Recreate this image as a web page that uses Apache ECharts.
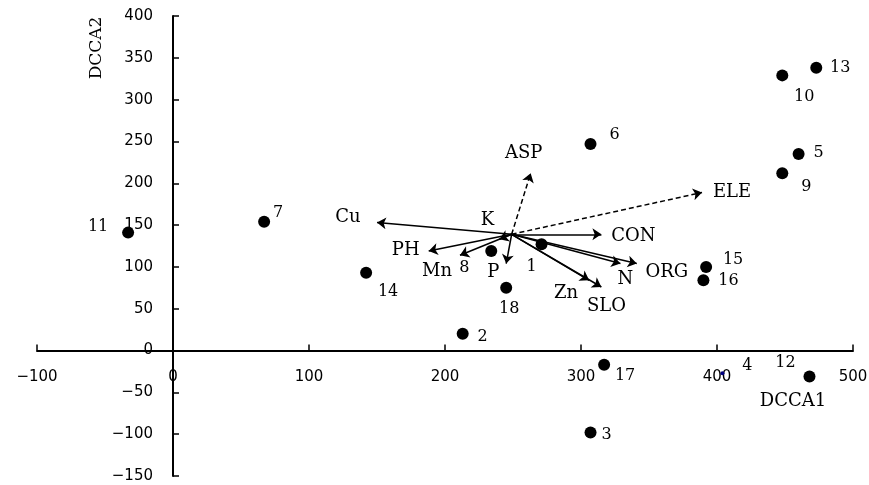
<!DOCTYPE html>
<html>
<head>
<meta charset="utf-8">
<script src="https://cdn.jsdelivr.net/npm/echarts@6/dist/echarts.min.js"></script>
<style>
html,body{margin:0;padding:0;background:#fff;}
#chart{width:869px;height:485px;}
</style>
</head>
<body>
<div id="chart"></div>
<script>
// ---- data ----
var siteNames = ['1','2','3','4','5','6','7','8','9','10','11','12','13','14','15','16','17','18'];
var siteX = [271, 213, 307, 404, 460, 307, 67, 234, 448, 448, -33, 468, 473, 142, 392, 390, 317, 245];
var siteY = [127, 20, -98, -27, 235, 247, 154, 119, 212, 329, 141, -31, 338, 93, 100, 84, -17, 75];

var envNames = ['ASP','ELE','Cu','K','PH','Mn','P','CON','N','ORG','Zn','SLO'];
var envX = [263, 389, 150, 240, 188, 211, 245, 315, 329, 341, 306, 315];
var envY = [212, 189, 153, 133, 119, 114, 104, 139, 104, 104, 84, 76];
var arrowOrigin = [249, 139];

var xTicks = [-100, 0, 100, 200, 300, 400, 500];
var yTicks = [-150, -100, -50, 0, 50, 100, 150, 200, 250, 300, 350, 400];

// ---- styling (layout, label offsets in px, special marks) ----
var W = 869, H = 485;
var gridL = 37, gridR = 16, gridT = 16, gridB = 9;
var siteLabelOffset = {
  '1':[-10,23], '2':[20,3], '3':[16,2], '4':[25,-7], '5':[20,-1], '6':[24,-9],
  '7':[14,-9], '8':[-27,17], '9':[24,14], '10':[22,21], '11':[-30,-6], '12':[-24,-14],
  '13':[24,0], '14':[22,19], '15':[27,-7], '16':[25,1], '17':[21,11], '18':[3,21]
};
var envLabelOffset = {
  'ASP':[-7,-20], 'ELE':[30,0], 'Cu':[-29,-5], 'K':[-12,-19], 'PH':[-23,-1], 'Mn':[-23,16],
  'P':[-13,9], 'CON':[32,2], 'N':[5,16], 'ORG':[30,9], 'Zn':[-23,13], 'SLO':[5,19]
};
var dashedEnv = {'ASP':true, 'ELE':true};
var smallSites = {'4':true};

var serif = 'DejaVu Serif';
var sans = 'DejaVu Sans';

var xMin = xTicks[0], xMax = xTicks[xTicks.length-1];
var yMin = yTicks[0], yMax = yTicks[yTicks.length-1];
var gridW = W - gridL - gridR, gridH = H - gridT - gridB;
// move axes so they cross at zero (axis labels follow the line)
var xAxisOffset = -gridH * (0 - yMin) / (yMax - yMin);
var yAxisOffset = -gridW * (0 - xMin) / (xMax - xMin);

function fmtMinus(v){ return String(v).replace('-', '\u2212'); }

var siteData = siteNames.map(function(n, i){
  var small = smallSites[n];
  return {
    name: n,
    value: [siteX[i], siteY[i]],
    symbolSize: small ? 4 : 12,
    itemStyle: { color: small ? '#000080' : '#000', opacity: 1 },
    label: { offset: siteLabelOffset[n] }
  };
});

var lineData = envNames.map(function(n, i){
  return {
    coords: [arrowOrigin, [envX[i], envY[i]]],
    lineStyle: { type: dashedEnv[n] ? [5,3] : 'solid' }
  };
});

var envLabelData = envNames.map(function(n, i){
  return { name: n, value: [envX[i], envY[i]], label: { offset: envLabelOffset[n] } };
});

var labelBase = { show: true, position: 'inside', formatter: '{b}', color: '#000', opacity: 1,
                  textBorderWidth: 0, textBorderColor: 'transparent', fontFamily: serif };

var chart = echarts.init(document.getElementById('chart'));
chart.setOption({
  animation: false,
  backgroundColor: '#fff',
  grid: { left: gridL, right: gridR, top: gridT, bottom: gridB, containLabel: false, outerBoundsMode: 'none' },
  xAxis: {
    type: 'value', min: xMin, max: xMax, interval: 100, position: 'bottom', offset: xAxisOffset,
    splitLine: { show: false },
    axisLine: { onZero: false, lineStyle: { color: '#000', width: 2 } },
    axisTick: { inside: true, length: 6, lineStyle: { color: '#000', width: 1.5 } },
    axisLabel: { margin: 19, color: '#000', fontFamily: sans, fontSize: 15, formatter: fmtMinus }
  },
  yAxis: {
    type: 'value', min: yMin, max: yMax, interval: 50, position: 'left', offset: yAxisOffset,
    splitLine: { show: false },
    axisLine: { onZero: false, lineStyle: { color: '#000', width: 2 } },
    axisTick: { inside: true, length: 6, lineStyle: { color: '#000', width: 1.5 } },
    axisLabel: { margin: 20, color: '#000', fontFamily: sans, fontSize: 15, formatter: fmtMinus }
  },
  graphic: [
    { type: 'text', x: 97, y: 48, rotation: Math.PI/2,
      style: { text: 'DCCA2', fill: '#000', font: '17px "DejaVu Serif"', align: 'center', verticalAlign: 'middle' } },
    { type: 'text', x: 793, y: 401,
      style: { text: 'DCCA1', fill: '#000', font: '18px "DejaVu Serif"', align: 'center', verticalAlign: 'middle' } }
  ],
  series: [
    {
      type: 'lines', coordinateSystem: 'cartesian2d', z: 3,
      symbol: ['none', 'arrow'], symbolSize: 9,
      lineStyle: { color: '#000', width: 1.5, opacity: 1, curveness: 0 },
      data: lineData
    },
    {
      type: 'scatter', z: 4,
      symbol: 'circle',
      itemStyle: { color: '#000', opacity: 1 },
      label: Object.assign({}, labelBase, { fontSize: 16 }),
      data: siteData
    },
    {
      type: 'scatter', z: 4,
      symbolSize: 0.1,
      itemStyle: { color: '#fff', opacity: 1 },
      label: Object.assign({}, labelBase, { fontSize: 18 }),
      data: envLabelData
    }
  ]
});
</script>
</body>
</html>
